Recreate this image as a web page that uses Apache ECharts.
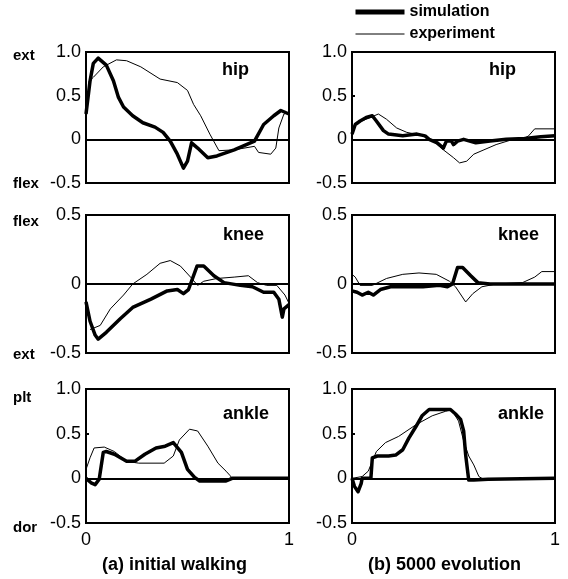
<!DOCTYPE html>
<html>
<head>
<meta charset="utf-8">
<script src="https://cdn.jsdelivr.net/npm/echarts@6/dist/echarts.min.js"></script>
<style>
  html, body { margin: 0; padding: 0; background: #fff; }
  #main { width: 568px; height: 579px; }
</style>
</head>
<body>
<div id="main"></div>
<script>
// joint angle curves, [gait phase, angle]
var hipInitSim = [[0,0.29],[0.02,0.67],[0.036,0.87],[0.06,0.93],[0.1,0.85],[0.135,0.67],[0.16,0.48],[0.185,0.37],[0.23,0.27],[0.28,0.19],[0.34,0.14],[0.38,0.08],[0.415,-0.02],[0.45,-0.17],[0.48,-0.33],[0.5,-0.25],[0.52,-0.04],[0.55,-0.1],[0.6,-0.21],[0.645,-0.19],[0.73,-0.12],[0.83,-0.02],[0.875,0.17],[0.925,0.27],[0.96,0.33],[1,0.29]];
var hipInitExp = [[0.01,0.65],[0.036,0.71],[0.085,0.83],[0.15,0.91],[0.2,0.9],[0.27,0.83],[0.365,0.69],[0.45,0.65],[0.5,0.56],[0.53,0.4],[0.565,0.27],[0.61,0.06],[0.655,-0.13],[0.73,-0.12],[0.83,-0.08],[0.85,-0.15],[0.91,-0.17],[0.935,-0.1],[0.95,0.13],[0.975,0.29],[1,0.31]];
var hipEvoSim = [[0,0.06],[0.016,0.17],[0.04,0.21],[0.07,0.25],[0.1,0.27],[0.12,0.21],[0.155,0.1],[0.18,0.06],[0.25,0.04],[0.32,0.06],[0.36,0.04],[0.38,0],[0.42,-0.04],[0.45,-0.1],[0.465,-0.02],[0.49,-0.02],[0.5,-0.06],[0.52,-0.02],[0.55,0],[0.61,-0.04],[0.68,-0.02],[0.76,0],[0.85,0.01],[0.93,0.03],[1,0.04]];
var hipEvoExp = [[0,0.1],[0.025,0.19],[0.07,0.23],[0.13,0.29],[0.17,0.23],[0.22,0.13],[0.27,0.08],[0.35,0.04],[0.4,-0.02],[0.45,-0.12],[0.5,-0.21],[0.53,-0.27],[0.565,-0.25],[0.6,-0.17],[0.65,-0.12],[0.71,-0.06],[0.78,-0.01],[0.84,0],[0.87,0.04],[0.9,0.12],[1,0.12]];

var kneeInitSim = [[0,-0.13],[0.02,-0.27],[0.045,-0.37],[0.06,-0.4],[0.1,-0.35],[0.17,-0.25],[0.23,-0.17],[0.32,-0.11],[0.4,-0.05],[0.45,-0.04],[0.48,-0.07],[0.505,-0.04],[0.547,0.13],[0.58,0.13],[0.63,0.06],[0.68,0.01],[0.76,-0.01],[0.82,-0.02],[0.875,-0.06],[0.925,-0.06],[0.95,-0.11],[0.967,-0.24],[0.975,-0.18],[1,-0.15]];
var kneeInitExp = [[0.02,-0.33],[0.07,-0.3],[0.12,-0.18],[0.185,-0.08],[0.23,0],[0.3,0.07],[0.365,0.15],[0.415,0.17],[0.465,0.13],[0.515,0.05],[0.55,-0.01],[0.58,0.02],[0.645,0.04],[0.73,0.05],[0.8,0.06],[0.845,0.01],[0.89,-0.01],[0.94,-0.01],[0.98,-0.08],[1,-0.14]];
var kneeEvoSim = [[0,-0.05],[0.025,-0.06],[0.05,-0.08],[0.08,-0.06],[0.105,-0.08],[0.14,-0.04],[0.19,-0.02],[0.35,-0.02],[0.43,-0.01],[0.47,-0.02],[0.495,0],[0.52,0.12],[0.545,0.12],[0.585,0.06],[0.62,0.01],[0.68,0],[0.84,0],[1,0]];
var kneeEvoExp = [[0,0.07],[0.016,0.05],[0.04,-0.01],[0.1,-0.01],[0.17,0.04],[0.25,0.07],[0.33,0.08],[0.415,0.07],[0.48,0.02],[0.51,-0.02],[0.56,-0.13],[0.595,-0.07],[0.64,-0.02],[0.71,0],[0.84,0.01],[0.9,0.05],[0.935,0.09],[1,0.09]];

var ankleInitSim = [[0,0],[0.025,-0.05],[0.045,-0.07],[0.065,-0.01],[0.085,0.29],[0.1,0.3],[0.14,0.27],[0.2,0.19],[0.24,0.19],[0.29,0.27],[0.345,0.34],[0.39,0.36],[0.43,0.4],[0.47,0.29],[0.5,0.1],[0.535,0.01],[0.56,-0.03],[0.69,-0.03],[0.72,0],[1,0]];
var ankleInitExp = [[0,0.1],[0.02,0.23],[0.04,0.34],[0.09,0.35],[0.14,0.3],[0.2,0.19],[0.26,0.17],[0.385,0.17],[0.43,0.25],[0.46,0.43],[0.51,0.55],[0.55,0.53],[0.6,0.36],[0.65,0.17],[0.69,0.08],[0.71,0.03],[0.72,0]];
var ankleEvoSim = [[0,0],[0.012,-0.09],[0.03,-0.15],[0.045,-0.06],[0.05,0],[0.093,0],[0.1,0.23],[0.125,0.25],[0.18,0.25],[0.215,0.26],[0.25,0.32],[0.28,0.45],[0.315,0.58],[0.345,0.7],[0.38,0.77],[0.43,0.77],[0.485,0.77],[0.51,0.72],[0.535,0.66],[0.55,0.53],[0.56,0.26],[0.575,-0.02],[0.6,-0.02],[0.67,-0.01],[1,0]];
var ankleEvoExp = [[0,0],[0.05,0.02],[0.08,0.08],[0.12,0.3],[0.165,0.4],[0.23,0.47],[0.315,0.6],[0.395,0.7],[0.46,0.75],[0.49,0.77],[0.525,0.64],[0.55,0.42],[0.575,0.25],[0.6,0.15],[0.625,0.02],[0.64,0]];

var panels = [
  { sim: hipInitSim, exp: hipInitExp, min: -0.5, max: 1, left: 86, top: 52, h: 131, xLabels: false },
  { sim: hipEvoSim, exp: hipEvoExp, min: -0.5, max: 1, left: 352, top: 52, h: 131, xLabels: false },
  { sim: kneeInitSim, exp: kneeInitExp, min: -0.5, max: 0.5, left: 86, top: 215, h: 138, xLabels: false },
  { sim: kneeEvoSim, exp: kneeEvoExp, min: -0.5, max: 0.5, left: 352, top: 215, h: 138, xLabels: false },
  { sim: ankleInitSim, exp: ankleInitExp, min: -0.5, max: 1, left: 86, top: 389, h: 134, xLabels: true },
  { sim: ankleEvoSim, exp: ankleEvoExp, min: -0.5, max: 1, left: 352, top: 389, h: 134, xLabels: true }
];

var tickFont = "'Liberation Sans Narrow', 'Arial Narrow', 'Liberation Sans', sans-serif";
var boldFont = "'Liberation Sans', Arial, sans-serif";

var grids = [], xAxes = [], yAxes = [], series = [];
panels.forEach(function (p, i) {
  grids.push({ left: p.left, top: p.top, width: 203, height: p.h, show: true, borderColor: '#000', borderWidth: 2, backgroundColor: 'transparent' });
  xAxes.push({
    type: 'value', gridIndex: i, min: 0, max: 1, interval: 1,
    axisLine: { show: false }, axisTick: { show: false }, splitLine: { show: false },
    axisLabel: { show: p.xLabels, color: '#000', fontSize: 18, fontFamily: tickFont, margin: 8 }
  });
  yAxes.push({
    type: 'value', gridIndex: i, min: p.min, max: p.max, interval: 0.5,
    axisLine: { show: true, onZero: false, lineStyle: { color: '#000', width: 2 } },
    axisTick: { show: true, inside: true, length: 3, lineStyle: { color: '#000', width: 2 } },
    splitLine: { show: false },
    axisLabel: {
      color: '#000', fontSize: 18, fontFamily: tickFont, margin: 5,
      formatter: function (v) { return v === 0 ? '0' : v.toFixed(1); }
    }
  });
  series.push({
    name: 'experiment', type: 'line', xAxisIndex: i, yAxisIndex: i, data: p.exp,
    showSymbol: false, symbol: 'none', lineStyle: { color: '#000', width: 1 }, itemStyle: { color: '#000' },
    markLine: {
      silent: true, symbol: 'none', label: { show: false },
      lineStyle: { color: '#000', width: 1.8, type: 'solid' },
      data: [{ yAxis: 0 }]
    }
  });
  series.push({
    name: 'simulation', type: 'line', xAxisIndex: i, yAxisIndex: i, data: p.sim,
    showSymbol: false, symbol: 'none', lineStyle: { color: '#000', width: 3.5, join: 'round' }, itemStyle: { color: '#000' }
  });
});

function label(txt, x, y, size, align) {
  return {
    type: 'text', left: x, top: y,
    style: { text: txt, fill: '#000', font: 'bold ' + size + 'px ' + boldFont, textAlign: align || 'left', textVerticalAlign: 'middle' }
  };
}

var myChart = echarts.init(document.getElementById('main'), null, { renderer: 'canvas' });

var option = {
  backgroundColor: '#fff',
  animation: false,
  legend: {
    data: [
      { name: 'simulation', lineStyle: { width: 5 } },
      { name: 'experiment', lineStyle: { width: 1 } }
    ],
    orient: 'vertical', left: 353, top: 4, padding: 0,
    itemWidth: 49, itemHeight: 14, itemGap: 6,
    itemStyle: { opacity: 0 },
    textStyle: { color: '#000', fontWeight: 'bold', fontSize: 16, fontFamily: boldFont }
  },
  grid: grids,
  xAxis: xAxes,
  yAxis: yAxes,
  series: series,
  graphic: [
    label('ext', 13, 48, 15),
    label('flex', 13, 176, 15),
    label('flex', 13, 214, 15),
    label('ext', 13, 347, 15),
    label('plt', 13, 390, 15),
    label('dor', 13, 520, 15),
    label('hip', 222, 61, 18),
    label('hip', 489, 61, 18),
    label('knee', 223, 226, 18),
    label('knee', 498, 226, 18),
    label('ankle', 223, 405, 18),
    label('ankle', 498, 405, 18),
    label('(a) initial walking', 102, 556, 18),
    label('(b) 5000 evolution', 368, 556, 18)
  ]
};

if (option && typeof option === 'object') {
  myChart.setOption(option);
}

window.addEventListener('resize', myChart.resize);
</script>
</body>
</html>
